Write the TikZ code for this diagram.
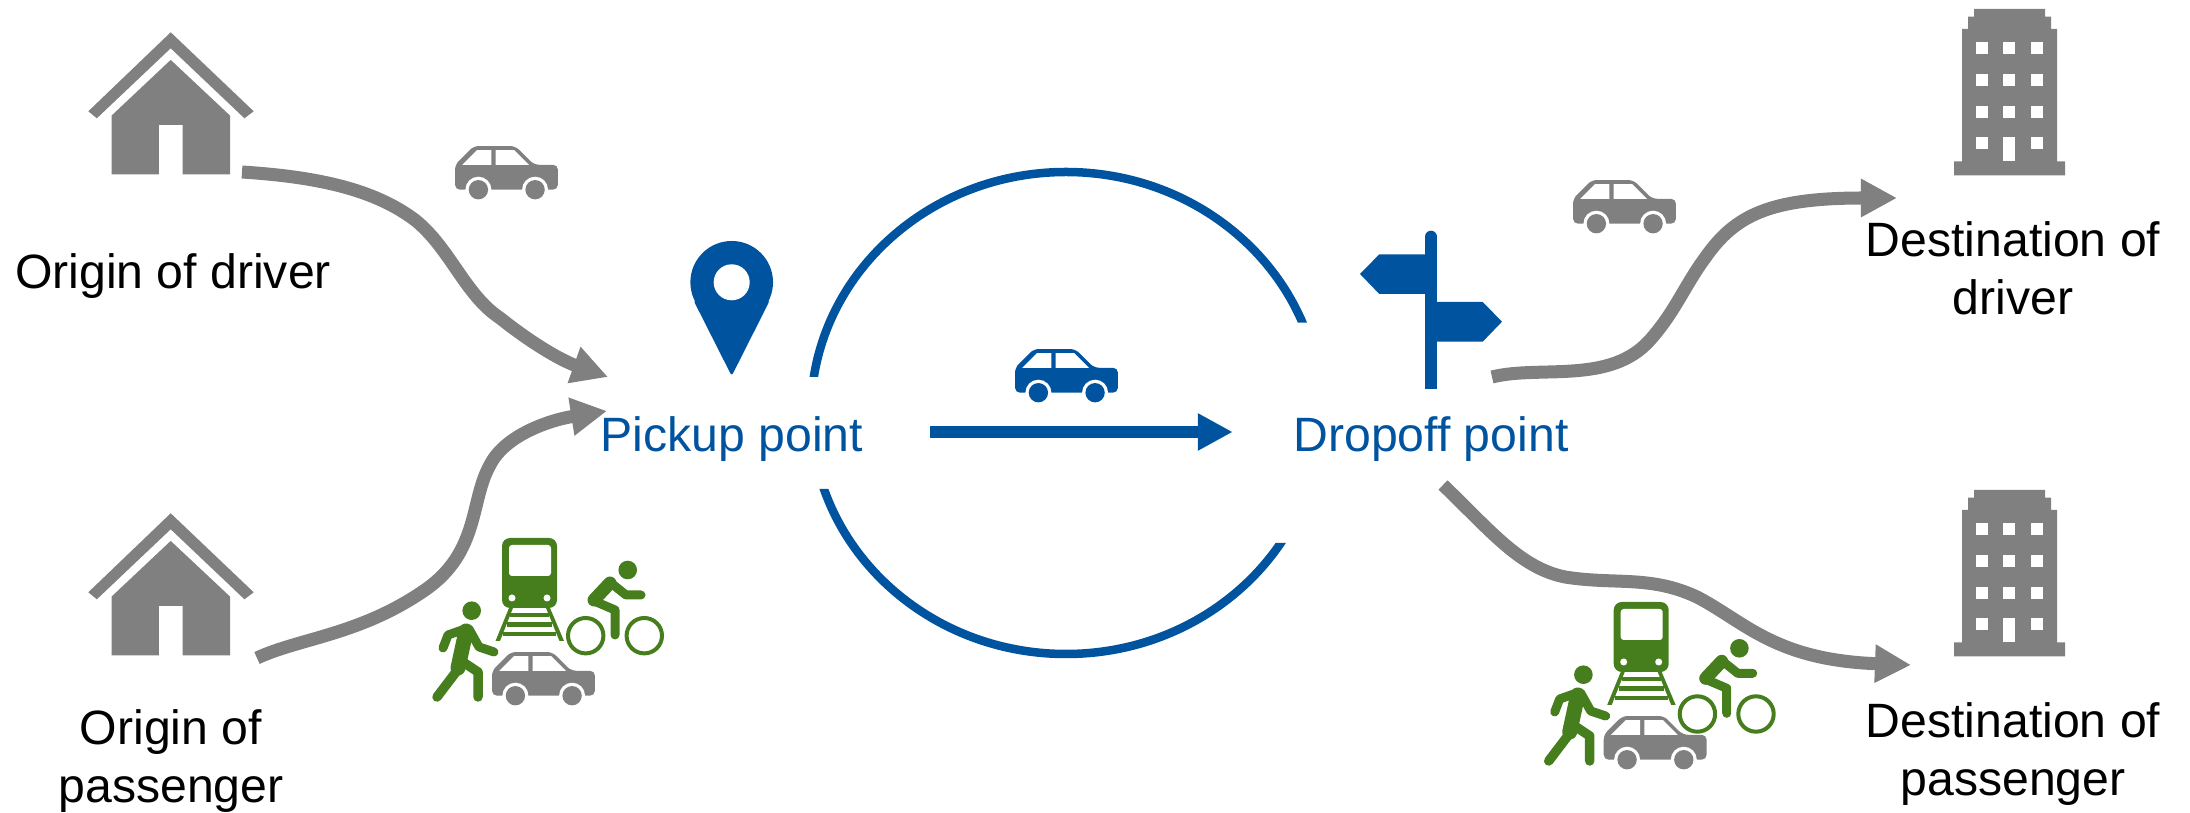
\documentclass[tikz,border=0pt]{standalone}
\usepackage{fontspec}
\setmainfont{Liberation Sans}
\usetikzlibrary{arrows.meta}
\definecolor{roadgray}{HTML}{808080}
\definecolor{rideblue}{HTML}{00549F}
\definecolor{modegreen}{HTML}{467E1E}
\tikzset{
  labeltext/.style={font=\fontsize{13.7}{16.4}\selectfont, align=center, inner sep=0pt},
  meetlabel/.style={labeltext, text=rideblue, text height=0.46cm, text depth=0.08cm},
  roadline/.style={draw=roadgray, line width=0.13cm, -{Triangle[length=0.36cm,width=0.36cm]}},
  limb/.style={draw=modegreen, line cap=round, line join=round},
  % icons, drawn in pixels of the reference
  carpic/.pic={
    \path[pic actions, rounded corners=0.05cm] (0,43) -- (0,19) -- (18,1) -- (58,1) -- (76,19) -- (99,19) -- (99,43) -- cycle;
    \fill[white] (7,19) -- (21,5) -- (35,5) -- (35,19) -- cycle;
    \fill[white] (39,19) -- (39,5) -- (57,5) -- (71,19) -- cycle;
    \foreach \wx in {22.5,77} {
      \fill[white] (\wx,43) circle (0.125cm);
      \path[pic actions] (\wx,43) circle (0.093cm);
    }
  },
  housepic/.pic={
    \fill[roadgray] (106.7,31.7) -- (187.3,110.7) -- (178.3,117.7) -- (106.7,47.7) -- (35,117.7) -- (26.7,110.7) -- cycle;
    \fill[roadgray] (106.7,59.3) -- (164.3,115) -- (164.3,173.7) -- (118.3,173.7) -- (118.3,124.3) -- (95.3,124.3) -- (95.3,173.7) -- (49.3,173.7) -- (49.3,115) -- cycle;
  },
  towerpic/.pic={
    \fill[roadgray] (34,9) -- (105,9) -- (105,16.7) -- (111,16.7) -- (111,29) -- (117,29) -- (117,161.3) -- (125,161.3) -- (125,175.3) -- (14,175.3) -- (14,161.3) -- (22,161.3) -- (22,29) -- (28,29) -- (28,16.7) -- (34,16.7) -- cycle;
    \foreach \wx in {35.7,63.3,91} {
      \foreach \wy in {42.3,74,105.7,137.3} {
        \fill[white] (\wx,\wy) rectangle ++(12,12);
      }
    }
    \fill[white] (63.3,137.3) rectangle (75.3,161.3);
  },
  cyclistpic/.pic={
    \fill[modegreen] (227.7,50) circle (0.093cm);
    \draw[modegreen, line width=0.04cm] (185.7,115.7) circle (0.177cm) (244.3,115.7) circle (0.177cm);
    \draw[limb, line width=0.13cm] (210,63) -- (194,80);
    \draw[limb, line width=0.09cm] (211,63) -- (226,75) -- (241,75);
    \draw[limb, line width=0.09cm] (194,81) -- (215,90) -- (215,115);
  },
  modespic/.pic={
    % train and track
    \fill[modegreen, rounded corners=0.08cm] (102,18) rectangle (157,88);
    \fill[white, rounded corners=0.03cm] (109,25) rectangle (151,56);
    \fill[white] (112,78) circle (0.035cm) (147,78) circle (0.035cm);
    \fill[modegreen] (109,88) -- (113,88) -- (100,121) -- (95.5,121) -- cycle;
    \fill[modegreen] (146,88) -- (150,88) -- (164,121) -- (159.5,121) -- cycle;
    \foreach \ty/\tl/\tr in {95/110/149, 104.5/107/152, 114/103/156} {
      \draw[modegreen, line width=0.045cm] (\tl,\ty) -- (\tr,\ty);
    }
    % walker
    \fill[modegreen] (71.7,90.7) circle (0.093cm);
    \draw[limb, line width=0.15cm] (66,111) -- (58,148);
    \draw[limb, line width=0.09cm] (65,109) -- (48,115) -- (43,128);
    \draw[limb, line width=0.09cm] (69,109) -- (79,127) -- (94,132);
    \draw[limb, line width=0.095cm] (56,152) -- (37,177);
    \draw[limb, line width=0.095cm] (60,140) -- (78,152) -- (78,177);
    \pic[fill=roadgray, scale=1.04] at (92,131) {carpic};
  }
}
\begin{document}
\begin{tikzpicture}[x=0.01cm, y=-0.01cm]
    \useasboundingbox (0,0) rectangle (2190,813);
    % homes and towers
    \pic[xscale=1.03] at (60.8,0.6) {housepic};
    \pic[xscale=1.03] at (60.8,481.6) {housepic};
    \pic at (1940,0) {towerpic};
    \pic at (1940,481) {towerpic};
    % labels
    \node[labeltext] (origdrv) at (173,276) {Origin of driver};
    \node[labeltext] (origpas) at (171,761) {Origin of\\passenger};
    \node[labeltext] (destdrv) at (2013,268) {Destination of\\driver};
    \node[labeltext] (destpas) at (2013,754) {Destination of\\passenger};
    \node[meetlabel] (pickup) at (732,432) {Pickup point};
    \node[meetlabel] (dropoff) at (1431,432) {Dropoff point};
    % shared ride ring, cut square at the labels
    \begin{scope}
      \clip (700,100) -- (1400,100) -- (1400,322.7) -- (1069,322.7) -- (1069,377) -- (700,377) -- cycle
            (700,489) -- (1069,489) -- (1069,543) -- (1400,543) -- (1400,720) -- (700,720) -- cycle;
      \draw[rideblue, line width=0.085cm] (1066,413) ellipse [x radius=255, y radius=241];
    \end{scope}
    \draw[rideblue, line width=0.117cm, -{Triangle[length=0.35cm,width=0.35cm]}, shorten <=0.66cm, shorten >=0.6cm] (pickup.east) -- (dropoff.west);
    % pin
    \fill[rideblue] (731.7,282.3) circle (0.413cm);
    \fill[rideblue, rounded corners=0.03cm] (693.3,300) -- (731.7,376) -- (770,300) -- cycle;
    \fill[white] (731.7,282.3) circle (0.18cm);
    % signpost
    \fill[rideblue] (1425,236.7) rectangle (1437,389);
    \fill[rideblue] (1431,236.7) circle (0.06cm);
    \fill[rideblue] (1425,254.3) -- (1379.3,254.3) -- (1360,274) -- (1379.3,294) -- (1425,294) -- cycle;
    \fill[rideblue] (1437,302) -- (1482.7,302) -- (1502,321.7) -- (1482.7,341.7) -- (1437,341.7) -- cycle;
    % cars
    \pic[fill=roadgray, scale=1.04] at (455,145) {carpic};
    \pic[fill=rideblue, scale=1.04] at (1015,348) {carpic};
    \pic[fill=roadgray, scale=1.04] at (1573,179) {carpic};
    % travel modes of the passenger
    \pic at (400,520) {modespic};
    \pic at (400,520) {cyclistpic};
    \pic at (1511.7,584) {modespic};
    \pic at (1511.7,598.3) {cyclistpic};
    % access and egress
    \coordinate (drvout) at (242,172);
    \coordinate (pickdrv) at (608,377);
    \coordinate (pasout) at (257,658);
    \coordinate (pickpas) at (607,411);
    \coordinate (dropout1) at (1492,377);
    \coordinate (drvin) at (1897,198);
    \coordinate (dropout2) at (1443,485);
    \coordinate (pasin) at (1911,665);
    \draw[roadline] (drvout) .. controls (320,177) and (375,190) .. (415,220) .. controls (450,248) and (465,295) .. (500,318) .. controls (530,342) and (560,360) .. (pickdrv);
    \draw[roadline] (pasout) .. controls (300,638) and (360,635) .. (425,590) .. controls (480,552) and (470,500) .. (490,465) .. controls (505,435) and (550,420) .. (pickpas);
    \draw[roadline] (dropout1) .. controls (1540,365) and (1610,385) .. (1650,340) .. controls (1675,312) and (1685,285) .. (1705,258) .. controls (1735,215) and (1770,198) .. (drvin);
    \draw[roadline] (dropout2) .. controls (1490,530) and (1520,568) .. (1565,577) .. controls (1615,585) and (1650,575) .. (1697,597) .. controls (1745,622) and (1775,660) .. (pasin);
\end{tikzpicture}
\end{document}
